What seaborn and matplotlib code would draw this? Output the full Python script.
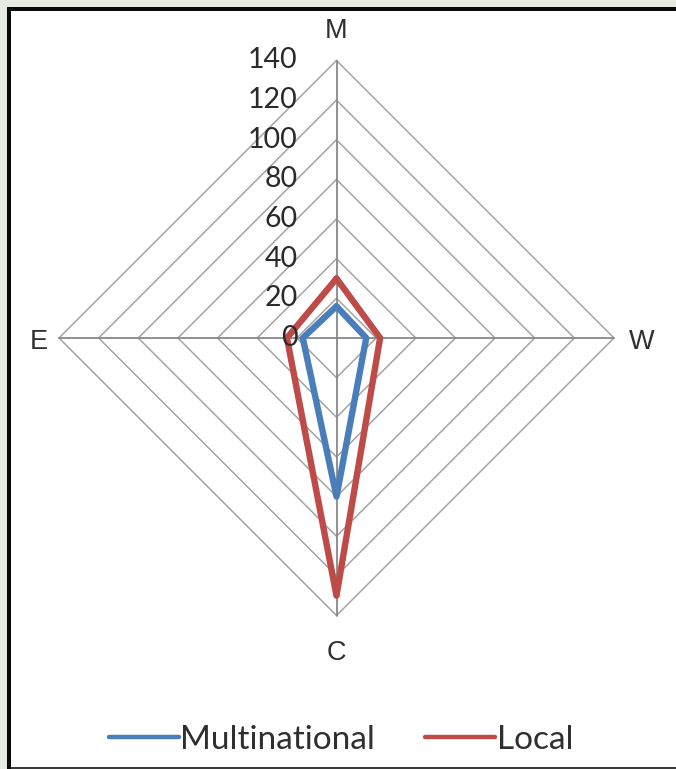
import numpy as np
import pandas as pd
import matplotlib
matplotlib.use("Agg")
import matplotlib.pyplot as plt
from matplotlib.patches import Rectangle
from matplotlib.lines import Line2D
import seaborn as sns

# Radar chart data
categories = ["M", "W", "C", "E"]
multinational = [16, 15, 80, 17]
local = [30, 22, 130, 25]
ring_ticks = [0, 20, 40, 60, 80, 100, 120, 140]
series_names = ["Multinational", "Local"]
series_colors = ["#4a7ebb", "#be4b48"]

sns.set_theme(style="white")
plt.rcParams["font.family"] = ["Liberation Sans", "DejaVu Sans"]

W_PX, H_PX = 676, 769
fig = plt.figure(figsize=(W_PX / 100, H_PX / 100), dpi=100)
fig.patch.set_facecolor("#e5ebe1")

# white panel with a dark frame on left/top and a thin line at the bottom
fig.patches.append(Rectangle((11 / W_PX, 0), 1, 1 - 11 / H_PX, transform=fig.transFigure,
                             facecolor="white", edgecolor="none", zorder=-2))
fig.patches.append(Rectangle((7 / W_PX, 0), 4 / W_PX, 1 - 7 / H_PX, transform=fig.transFigure,
                             facecolor="#0a0a0a", edgecolor="none", zorder=-1))
fig.patches.append(Rectangle((7 / W_PX, 1 - 11 / H_PX), 1, 4 / H_PX, transform=fig.transFigure,
                             facecolor="#0a0a0a", edgecolor="none", zorder=-1))
fig.patches.append(Rectangle((11 / W_PX, 0), 1, 2 / H_PX, transform=fig.transFigure,
                             facecolor="#3a3a3a", edgecolor="none", zorder=-1))

ax = fig.add_axes([0, 0, 1, 1])
ax.set_zorder(3)
ax.set_facecolor("none")
for s in ax.spines.values():
    s.set_visible(False)
ax.set_xticks([])
ax.set_yticks([])

# pixel layout of the radar: centre and outer radius
cx, cy = 336.5, 338.0
r_max = max(ring_ticks)
scale = 277.5 / r_max  # pixels per unit
ax.set_xlim(-cx / scale, (W_PX - cx) / scale)
ax.set_ylim(-(H_PX - cy) / scale, cy / scale)
ax.set_aspect("equal")

n = len(categories)
angles = np.pi / 2 - np.arange(n) * 2 * np.pi / n  # clockwise from the top


def to_xy(values):
    v = np.asarray(values, dtype=float)
    return v * np.cos(angles), v * np.sin(angles)


# diamond grid rings
for r in ring_ticks[1:]:
    gx, gy = to_xy([r] * n)
    ax.plot(np.append(gx, gx[0]), np.append(gy, gy[0]), color="#a4a4a4", lw=1.1, zorder=1)

# spokes
for a in angles:
    ax.plot([0, r_max * np.cos(a)], [0, r_max * np.sin(a)], color="#888888", lw=1.3, zorder=2)

# series polygons
rows = []
for name, vals in zip(series_names, [multinational, local]):
    xs, ys = to_xy(vals)
    xs = np.append(xs, xs[0])
    ys = np.append(ys, ys[0])
    for i, (x, y) in enumerate(zip(xs, ys)):
        rows.append({"series": name, "order": i, "x": x, "y": y})
df = pd.DataFrame(rows)

sns.lineplot(data=df, x="x", y="y", hue="series", hue_order=series_names,
             palette=series_colors, sort=False, estimator=None, lw=4.6,
             ax=ax, zorder=5, legend=False)
for line in ax.lines[-2:]:
    line.set_solid_joinstyle("round")

# ring value labels along the top spoke
for r in ring_ticks:
    ax.text(-39 / scale, r, str(r), ha="right", va="center", fontsize=20.5,
            family=["Lato", "DejaVu Sans"], color="#2a2a2a", zorder=6)

# category labels
label_off = [(0, 307 / scale), (305 / scale, -4 / scale), (0, -315 / scale), (-298 / scale, -4 / scale)]
for cat, (ox, oy) in zip(categories, label_off):
    ax.text(ox, oy, cat, ha="center", va="center", fontsize=19.5, color="#2f2f2f")

# legend
handles = [Line2D([], [], color=c, lw=3.2) for c in series_colors]
leg = fig.legend(handles, series_names, loc="center", bbox_to_anchor=(341 / W_PX, 1 - 740 / H_PX),
                 ncol=2, frameon=False, handlelength=2.1, handletextpad=0.05, columnspacing=1.5,
                 prop={"family": ["Lato", "DejaVu Sans"], "size": 24})
leg.set_zorder(6)
for t in leg.get_texts():
    t.set_color("#2f2f2f")

fig.savefig("out.png", dpi=100)
